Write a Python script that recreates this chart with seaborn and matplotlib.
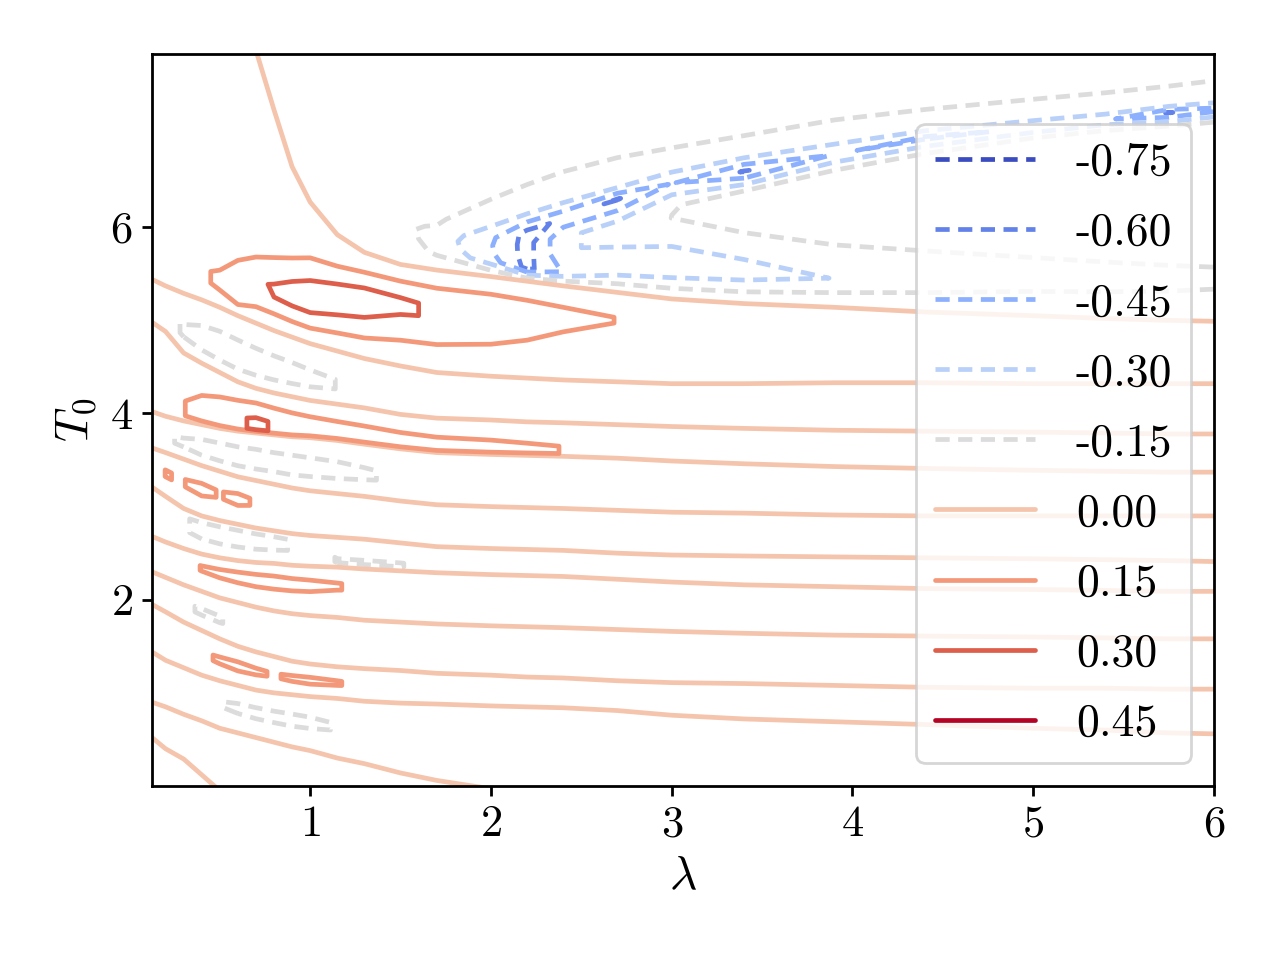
import numpy as np
import matplotlib
matplotlib.use("Agg")
import matplotlib.pyplot as plt
from matplotlib.lines import Line2D
from matplotlib.colors import Normalize
import seaborn as sns

# ---------------- data ----------------
levels = [-0.75, -0.60, -0.45, -0.30, -0.15, 0.00, 0.15, 0.30, 0.45]
xticks = [1, 2, 3, 4, 5, 6]
yticks = [2, 4, 6]

# lambda columns of the sampled field
lam = [0.125, 0.2, 0.3, 0.4, 0.5, 0.6, 0.7, 0.8, 0.9, 1.0, 1.15, 1.3, 1.5, 1.7,
       2.0, 2.2, 2.4, 2.7, 3.0, 3.4, 3.9, 4.4, 5.0, 5.4, 5.75, 6.0]

# T0 position of every zero line (bottom -> top) in each column
zero_L = [0.52, 0.40, 0.29, 0.12, -0.05, -0.2, -0.35, -0.5, -0.6, -0.7, -0.8, -0.9, -1.0, -1.1,
          -1.2, -1.25, -1.3, -1.35, -1.4, -1.45, -1.5, -1.5, -1.5, -1.5, -1.5, -1.5]
zero_K = [0.90, 0.85, 0.77, 0.70, 0.62, 0.57, 0.52, 0.47, 0.42, 0.38, 0.30, 0.24, 0.14, 0.06,
          -0.03, -0.1, -0.15, -0.22, -0.3, -0.35, -0.4, -0.45, -0.5, -0.55, -0.58, -0.6]
zero_J = [1.44, 1.35, 1.27, 1.19, 1.13, 1.08, 1.03, 1.00, 0.98, 0.96, 0.94, 0.91, 0.89, 0.88,
          0.86, 0.85, 0.84, 0.81, 0.76, 0.72, 0.69, 0.66, 0.62, 0.60, 0.57, 0.56]
zero_I = [1.95, 1.87, 1.76, 1.67, 1.58, 1.50, 1.44, 1.39, 1.34, 1.31, 1.28, 1.26, 1.24, 1.21,
          1.19, 1.17, 1.16, 1.13, 1.11, 1.10, 1.08, 1.06, 1.05, 1.05, 1.04, 1.04]
zero_H = [2.30, 2.24, 2.16, 2.09, 2.02, 1.97, 1.92, 1.88, 1.85, 1.83, 1.81, 1.78, 1.76, 1.74,
          1.72, 1.71, 1.70, 1.68, 1.66, 1.64, 1.62, 1.61, 1.60, 1.59, 1.58, 1.58]
zero_G = [2.68, 2.62, 2.55, 2.49, 2.45, 2.42, 2.40, 2.39, 2.37, 2.36, 2.35, 2.33, 2.31, 2.29,
          2.27, 2.26, 2.25, 2.22, 2.19, 2.16, 2.14, 2.12, 2.11, 2.10, 2.09, 2.09]
zero_F = [3.21, 3.11, 2.98, 2.90, 2.85, 2.81, 2.77, 2.74, 2.71, 2.69, 2.67, 2.65, 2.61, 2.57,
          2.55, 2.54, 2.53, 2.50, 2.48, 2.47, 2.46, 2.45, 2.44, 2.43, 2.42, 2.41]
zero_E = [3.63, 3.58, 3.51, 3.44, 3.38, 3.32, 3.28, 3.24, 3.20, 3.17, 3.14, 3.11, 3.06, 3.02,
          3.00, 2.99, 2.98, 2.96, 2.94, 2.93, 2.91, 2.90, 2.90, 2.90, 2.90, 2.90]
zero_D = [4.02, 3.97, 3.92, 3.88, 3.84, 3.81, 3.79, 3.77, 3.75, 3.74, 3.71, 3.67, 3.62, 3.58,
          3.56, 3.55, 3.54, 3.52, 3.49, 3.46, 3.43, 3.41, 3.39, 3.38, 3.37, 3.37]
zero_C = [4.98, 4.88, 4.65, 4.54, 4.44, 4.34, 4.27, 4.22, 4.18, 4.14, 4.10, 4.06, 3.99, 3.95,
          3.93, 3.91, 3.90, 3.88, 3.86, 3.84, 3.82, 3.81, 3.80, 3.79, 3.78, 3.78]
zero_B = [5.44, 5.37, 5.29, 5.22, 5.14, 5.05, 4.97, 4.89, 4.82, 4.75, 4.67, 4.59, 4.51, 4.44,
          4.40, 4.38, 4.36, 4.34, 4.32, 4.32, 4.33, 4.33, 4.32, 4.32, 4.32, 4.32]
zero_A = [9.5, 9.2, 8.8, 8.5, 8.25, 8.05, 7.9, 7.26, 6.65, 6.27, 5.92, 5.73, 5.60, 5.54,
          5.47, 5.42, 5.37, 5.30, 5.23, 5.18, 5.14, 5.09, 5.05, 5.02, 5.00, 4.99]

# peak value of each band between two zero lines, per column
amp_LK = [0.10] * 26
amp_KJ = [-0.10, -0.11, -0.12, -0.13, -0.145, -0.165, -0.17, -0.17, -0.17, -0.165, -0.145, -0.13,
          -0.11, -0.10, -0.09, -0.08, -0.08, -0.08, -0.08, -0.08, -0.08, -0.08, -0.08, -0.08, -0.08, -0.08]
amp_JI = [0.10, 0.11, 0.12, 0.14, 0.156, 0.17, 0.158, 0.145, 0.158, 0.165, 0.153, 0.135, 0.12,
          0.11, 0.10, 0.09, 0.09, 0.09, 0.08, 0.08, 0.08, 0.08, 0.08, 0.08, 0.08, 0.08]
amp_IH = [-0.10, -0.12, -0.145, -0.153, -0.152, -0.14, -0.13, -0.12, -0.11, -0.10, -0.10, -0.09,
          -0.09, -0.08, -0.08, -0.08, -0.08, -0.08, -0.08, -0.08, -0.08, -0.08, -0.08, -0.08, -0.08, -0.08]
amp_HG = [0.10, 0.12, 0.13, 0.152, 0.165, 0.175, 0.18, 0.18, 0.175, 0.17, 0.152, 0.14, 0.12,
          0.11, 0.10, 0.09, 0.09, 0.09, 0.08, 0.08, 0.08, 0.08, 0.08, 0.08, 0.08, 0.08]
amp_GF = [-0.10, -0.12, -0.14, -0.17, -0.18, -0.18, -0.175, -0.165, -0.145, -0.14, -0.151, -0.152,
          -0.151, -0.14, -0.12, -0.10, -0.09, -0.09, -0.08, -0.08, -0.08, -0.08, -0.08, -0.08, -0.08, -0.08]
amp_FE = [0.12, 0.151, 0.148, 0.17, 0.145, 0.17, 0.14, 0.13, 0.12, 0.11, 0.10, 0.10, 0.09,
          0.09, 0.08, 0.08, 0.08, 0.08, 0.08, 0.08, 0.08, 0.08, 0.08, 0.08, 0.08, 0.08]
amp_ED = [-0.12, -0.14, -0.16, -0.20, -0.21, -0.21, -0.21, -0.20, -0.20, -0.19, -0.18, -0.16,
          -0.13, -0.11, -0.10, -0.09, -0.09, -0.08, -0.08, -0.08, -0.08, -0.08, -0.08, -0.08, -0.08, -0.08]
amp_DC = [0.12, 0.13, 0.145, 0.20, 0.24, 0.28, 0.32, 0.29, 0.26, 0.24, 0.22, 0.21, 0.20, 0.19,
          0.18, 0.165, 0.148, 0.12, 0.10, 0.09, 0.08, 0.08, 0.08, 0.08, 0.08, 0.08]
amp_CB = [-0.11, -0.13, -0.155, -0.20, -0.22, -0.22, -0.21, -0.20, -0.19, -0.175, -0.148, -0.12,
          -0.10, -0.09, -0.08, -0.08, -0.08, -0.08, -0.08, -0.08, -0.08, -0.08, -0.08, -0.08, -0.08, -0.08]

# where the weak lobe of the G-F band sits inside the band (fraction of band width)
gf_lo = [0.45] * 10 + [0.15] * 4 + [0.45] * 12
gf_hi = [0.80] * 10 + [0.28] * 4 + [0.80] * 12

# band between B and A (positive lobe around T0 ~ 5.2): three samples per column
ab_t1 = [5.7, 5.65, 5.55, 5.45, 5.35, 5.25, 5.3, 5.25, 5.2, 5.15, 5.15, 5.12, 5.1, 5.0,
         4.95, 4.95, 4.98, 4.97, 4.7, 4.65, 4.63, 4.62, 4.6, 4.6, 4.6, 4.6]
ab_z1 = [0.10, 0.11, 0.12, 0.13, 0.17, 0.25, 0.28, 0.30, 0.34, 0.36, 0.37, 0.36, 0.32, 0.28,
         0.24, 0.21, 0.18, 0.148, 0.12, 0.10, 0.09, 0.08, 0.08, 0.08, 0.08, 0.08]
ab_t2 = [6.2, 6.0, 5.85, 5.6, 5.45, 5.45, 5.4, 5.38, 5.35, 5.33, 5.3, 5.28, 5.22, 5.15,
         5.1, 5.1, 5.08, 5.03, 4.85, 4.8, 4.78, 4.76, 4.74, 4.72, 4.72, 4.71]
ab_z2 = [0.10, 0.11, 0.12, 0.13, 0.17, 0.26, 0.29, 0.305, 0.34, 0.36, 0.37, 0.36, 0.32, 0.28,
         0.24, 0.21, 0.18, 0.148, 0.12, 0.10, 0.09, 0.08, 0.08, 0.08, 0.08, 0.08]
ab_t3 = [7.2, 7.0, 6.8, 6.5, 5.85, 5.75, 5.78, 5.75, 5.72, 5.72, 5.62, 5.55, 5.48, 5.42,
         5.4, 5.35, 5.3, 5.2, 5.05, 5.0, 4.97, 4.93, 4.9, 4.88, 4.87, 4.86]
ab_z3 = [0.08, 0.08, 0.08, 0.08, 0.08, 0.09, 0.10, 0.11, 0.12, 0.12, 0.12, 0.12, 0.10, 0.10,
         0.09, 0.08, 0.07, 0.07, 0.07, 0.06, 0.05, 0.05, 0.05, 0.05, 0.05, 0.05]

# negative region above line A: lower valley, ridge, upper valley, shoulders
v1_t = [9.8, 9.5, 9.1, 8.8, 8.55, 8.35, 8.2, 7.56, 6.95, 6.57, 6.22, 6.03, 5.8, 5.72,
        5.64, 5.56, 5.52, 5.56, 5.55, 5.5, 5.45, 5.45, 5.45, 5.44, 5.44, 5.45]
v1_z = [-0.05] * 12 + [-0.08, -0.17, -0.38, -0.64, -0.44, -0.42, -0.42, -0.38, -0.295,
                       -0.26, -0.23, -0.22, -0.21, -0.20]
r1_t = [10.0, 9.7, 9.3, 9.0, 8.75, 8.55, 8.4, 7.76, 7.15, 6.77, 6.42, 6.23, 5.95, 5.8,
        5.72, 5.7, 5.72, 5.9, 6.1, 5.98, 5.86, 5.8, 5.73, 5.68, 5.64, 5.62]
r1_z = [-0.06] * 12 + [-0.10, -0.20, -0.43, -0.66, -0.33, -0.24, -0.149, -0.13, -0.13,
                       -0.13, -0.13, -0.13, -0.13, -0.13]
r2_t = [10.2, 9.9, 9.5, 9.2, 8.95, 8.75, 8.6, 7.96, 7.35, 6.97, 6.62, 6.43, 6.05, 5.88,
        5.8, 5.82, 5.9, 6.02, 6.22, 6.38, 6.6, 6.78, 6.95, 7.03, 7.08, 7.12]
r2_z = [-0.07] * 12 + [-0.105, -0.21, -0.44, -0.66, -0.33, -0.24, -0.153, -0.13, -0.13,
                       -0.13, -0.13, -0.13, -0.13, -0.13]
v2_t = [10.4, 10.1, 9.7, 9.4, 9.15, 8.95, 8.8, 8.16, 7.55, 7.17, 6.82, 6.63, 6.15, 5.94,
        5.88, 5.94, 6.1, 6.3, 6.47, 6.6, 6.78, 6.96, 7.07, 7.15, 7.23, 7.26]
v2_z = [-0.08] * 12 + [-0.09, -0.18, -0.42, -0.65, -0.57, -0.61, -0.44, -0.61, -0.44,
                       -0.48, -0.43, -0.42, -0.61, -0.50]
u1_t = [10.7, 10.4, 10.0, 9.7, 9.45, 9.25, 9.1, 8.46, 7.85, 7.47, 7.12, 6.93, 6.4, 6.1,
        6.02, 6.15, 6.27, 6.43, 6.6, 6.75, 6.9, 7.04, 7.15, 7.22, 7.3, 7.34]
u1_z = [-0.08] * 12 + [-0.09, -0.12] + [-0.29] * 12
u2_t = [11.1, 10.8, 10.4, 10.1, 9.85, 9.65, 9.5, 8.86, 8.25, 7.87, 7.52, 7.33, 6.8, 6.4,
        6.32, 6.48, 6.62, 6.77, 6.87, 7.0, 7.17, 7.28, 7.39, 7.46, 7.53, 7.59]
u2_z = [-0.06] * 12 + [-0.07, -0.08] + [-0.14] * 12

# ---------------- build the curvilinear sample mesh ----------------
n = len(lam)
rows_t, rows_z = [], []


def add_row(t, z):
    rows_t.append(np.asarray(t, float) * np.ones(n))
    rows_z.append(np.asarray(z, float) * np.ones(n))


def add_band(lo, hi, amp, f1, f2):
    lo = np.asarray(lo, float)
    hi = np.asarray(hi, float)
    add_row(lo + np.asarray(f1, float) * (hi - lo), amp)
    add_row(lo + np.asarray(f2, float) * (hi - lo), amp)


add_row(-3.0, -0.08)
add_row(zero_L, 0.0)
add_band(zero_L, zero_K, amp_LK, 0.40, 0.60)
add_row(zero_K, 0.0)
add_band(zero_K, zero_J, amp_KJ, 0.45, 0.58)
add_row(zero_J, 0.0)
add_band(zero_J, zero_I, amp_JI, 0.42, 0.55)
add_row(zero_I, 0.0)
add_band(zero_I, zero_H, amp_IH, 0.40, 0.55)
add_row(zero_H, 0.0)
add_band(zero_H, zero_G, amp_HG, 0.55, 0.68)
add_row(zero_G, 0.0)
add_band(zero_G, zero_F, amp_GF, gf_lo, gf_hi)
add_row(zero_F, 0.0)
add_band(zero_F, zero_E, amp_FE, 0.45, 0.60)
add_row(zero_E, 0.0)
add_band(zero_E, zero_D, amp_ED, 0.34, 0.52)
add_row(zero_D, 0.0)
add_band(zero_D, zero_C, amp_DC, 0.08, 0.30)
add_row(zero_C, 0.0)
add_band(zero_C, zero_B, amp_CB, 0.28, 0.46)
add_row(zero_B, 0.0)
add_row(ab_t1, ab_z1)
add_row(ab_t2, ab_z2)
add_row(ab_t3, ab_z3)
add_row(zero_A, 0.0)
add_row(v1_t, v1_z)
add_row(r1_t, r1_z)
add_row(r2_t, r2_z)
add_row(v2_t, v2_z)
add_row(u1_t, u1_z)
add_row(u2_t, u2_z)
add_row(12.0, -0.03)

Y = np.vstack(rows_t)
Z = np.vstack(rows_z)
X = np.tile(np.asarray(lam, float), (Y.shape[0], 1))
bad = np.argwhere(np.diff(Y, axis=0) <= 0)
if len(bad):
    print("non-monotonic rows:", bad[:10])

# ---------------- style ----------------
sns.set_style("ticks", {"axes.edgecolor": "black", "xtick.color": "black",
                        "ytick.color": "black", "axes.labelcolor": "black",
                        "text.color": "black"})
plt.rcParams["font.family"] = ["cmr10", "DejaVu Serif"]
plt.rcParams["mathtext.fontset"] = "cm"
plt.rcParams["axes.formatter.use_mathtext"] = True
plt.rcParams["axes.unicode_minus"] = False
plt.rcParams["axes.linewidth"] = 1.0

fig = plt.figure(figsize=(6.4, 4.8), dpi=200)
ax = fig.add_axes([152 / 1280, 1 - 786 / 960, (1214 - 152) / 1280, (786 - 54) / 960])

cmap = plt.get_cmap("coolwarm")
norm = Normalize(vmin=min(levels), vmax=max(levels))
dash = (0, (3.0, 1.8))
lw = 1.7

cs = ax.contour(X, Y, Z, levels=levels, cmap=cmap, norm=norm, linewidths=lw)
cs.set_linestyle([dash if lv < 0 else "solid" for lv in cs.levels])

ax.set_xlim(0.125, 6.0)
ax.set_ylim(0.0, 7.86)
ax.set_xticks(xticks)
ax.set_yticks(yticks)
ax.tick_params(labelsize=16, direction="out", length=3.5, width=1.0)
ax.set_xlabel(r"$\lambda$", fontsize=17)
ax.set_ylabel(r"$T_0$", fontsize=17)

handles = [Line2D([0], [0], color=cmap(norm(lv)), lw=lw,
                  linestyle=dash if lv < 0 else "solid") for lv in levels]
labels = [f"{lv:.2f}" for lv in levels]
ax.legend(handles, labels, loc="lower right", fontsize=16.5, handlelength=2.18,
          handletextpad=0.9, labelspacing=0.62, framealpha=0.8)

fig.savefig("out.png", dpi=200)
